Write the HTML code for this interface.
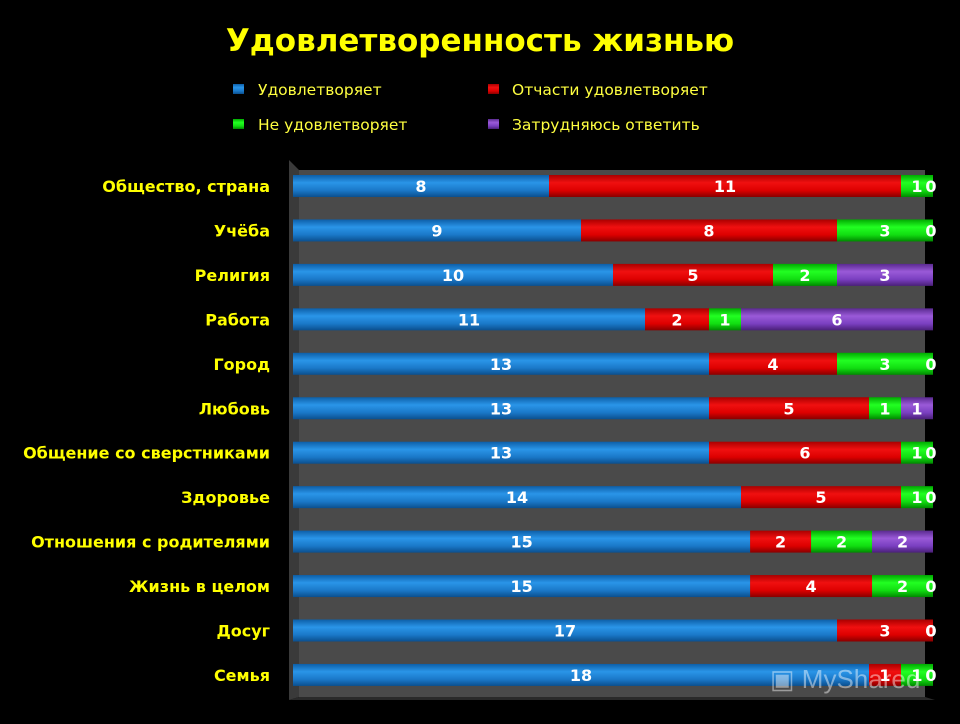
<!DOCTYPE html>
<html><head><meta charset="utf-8"><style>
body{margin:0;background:#000;width:960px;height:720px;overflow:hidden;font-family:"DejaVu Sans","Liberation Sans",sans-serif}
</style></head><body>
<svg id="c" width="960" height="720" xmlns="http://www.w3.org/2000/svg" font-family="DejaVu Sans, Liberation Sans, sans-serif">
<defs>
<linearGradient id="gb" x1="0" y1="0" x2="0" y2="1"><stop offset="0" stop-color="#0d5fa8"/><stop offset="0.35" stop-color="#2a95e8"/><stop offset="0.7" stop-color="#1a78c8"/><stop offset="1" stop-color="#0b4f8e"/></linearGradient>
<linearGradient id="gr" x1="0" y1="0" x2="0" y2="1"><stop offset="0" stop-color="#a00"/><stop offset="0.35" stop-color="#f01010"/><stop offset="0.7" stop-color="#d00"/><stop offset="1" stop-color="#800"/></linearGradient>
<linearGradient id="gg" x1="0" y1="0" x2="0" y2="1"><stop offset="0" stop-color="#0a0"/><stop offset="0.35" stop-color="#2f2"/><stop offset="0.7" stop-color="#1d1"/><stop offset="1" stop-color="#080"/></linearGradient>
<linearGradient id="gp" x1="0" y1="0" x2="0" y2="1"><stop offset="0" stop-color="#5a2a90"/><stop offset="0.35" stop-color="#9a5ad8"/><stop offset="0.7" stop-color="#7a3fc0"/><stop offset="1" stop-color="#4a2078"/></linearGradient>
</defs>
<text x="480" y="51" text-anchor="middle" fill="#ffff00" font-size="31" font-weight="bold">Удовлетворенность жизнью</text>
<g>
<rect x="233" y="84" width="11" height="10" fill="url(#gb)"/>
<text x="258" y="95" fill="#ffff40" font-size="15.5">Удовлетворяет</text>
<rect x="488" y="84" width="11" height="10" fill="url(#gr)"/>
<text x="512" y="95" fill="#ffff40" font-size="15.5">Отчасти удовлетворяет</text>
<rect x="233" y="119" width="11" height="10" fill="url(#gg)"/>
<text x="258" y="130" fill="#ffff40" font-size="15.5">Не удовлетворяет</text>
<rect x="488" y="119" width="11" height="10" fill="url(#gp)"/>
<text x="512" y="130" fill="#ffff40" font-size="15.5">Затрудняюсь ответить</text>
</g>
<polygon points="289,160 299,170 299,697 289,700" fill="#3a3a3a"/>
<rect x="299" y="170" width="626" height="527" fill="#4a4a4a"/>
<polygon points="289,700 299,697 925,697 935,700" fill="#2a2a2a"/>
<g id="bars"></g>
<text x="770" y="688" fill="rgba(255,255,255,0.45)" font-size="26" font-family="Liberation Sans, sans-serif">▣ MyShared</text>
</svg>
<script>
const categories=["Общество, страна","Учёба","Религия","Работа","Город","Любовь","Общение со сверстниками","Здоровье","Отношения с родителями","Жизнь в целом","Досуг","Семья"];
const satisfies=[8,9,10,11,13,13,13,14,15,15,17,18];
const partly=[11,8,5,2,4,5,6,5,2,4,3,1];
const notSatisfied=[1,3,2,1,3,1,1,1,2,2,0,1];
const hardToSay=[0,0,3,6,0,1,0,0,2,0,0,0];
const series=[satisfies,partly,notSatisfied,hardToSay];
const fills=["url(#gb)","url(#gr)","url(#gg)","url(#gp)"];
const snames=["satisfies","partly","not-satisfied","hard-to-say"];
const NS="http://www.w3.org/2000/svg";
const g=document.getElementById('bars');
const x0=293,x1=933,yTop=186,yStep=44.45,bh=22;
function xs(frac){return x0+frac*(x1-x0);}
function ys(i){return yTop+i*yStep;}
function mk(tag,attrs){const e=document.createElementNS(NS,tag);for(const k in attrs)e.setAttribute(k,attrs[k]);return e;}
categories.forEach((cat,i)=>{
  const y=ys(i);
  const lab=mk('text',{x:270,y:y+6,'text-anchor':'end',fill:'#ffff00','font-size':16,'font-weight':'bold'});
  lab.textContent=cat;
  
  
  g.appendChild(lab);
  const total=series.reduce((s,a)=>s+a[i],0);
  let acc=0;
  series.forEach((arr,k)=>{
    const v=arr[i];
    const a=xs(acc/total),b=xs((acc+v)/total);
    if(v>0){
      const r=mk('rect',{x:a,y:y-bh/2,width:b-a,height:bh,fill:fills[k]});
      
      
      g.appendChild(r);
    }
    acc+=v;
  });
  acc=0;
  series.forEach((arr,k)=>{
    const v=arr[i];
    let cx=(xs(acc/total)+xs((acc+v)/total))/2;
    if(v===0)cx=x1-2;
    const t=mk('text',{x:cx,y:y+6,'text-anchor':'middle',fill:'#fff','font-size':16,'font-weight':'bold'});
    t.textContent=v;
    
    
    g.appendChild(t);
    acc+=v;
  });
});
</script>
</body></html>
